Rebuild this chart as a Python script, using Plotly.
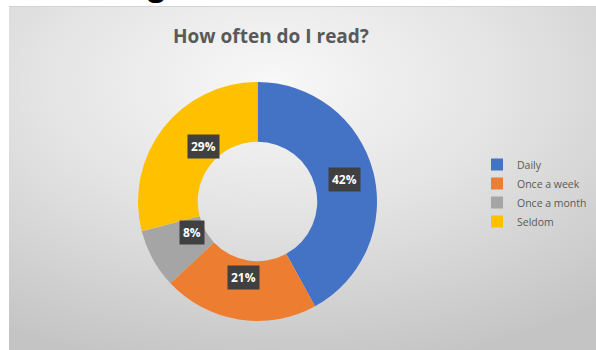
import base64
import math

import plotly.graph_objects as go

# Survey answers and their share of the total, in percent
categories = ["Daily", "Once a week", "Once a month", "Seldom"]
shares = [42, 21, 8, 29]
slice_colors = ["#4472C4", "#ED7D31", "#A5A5A5", "#FFC000"]
chart_title = "How often do I read?"

W, H = 596, 350
PANEL_X0, PANEL_Y0 = 9, 6          # top-left corner of the grey chart panel (px)
PANEL_X1 = W + 12                  # panel runs past the right edge of the page
CX, CY, R = 257.5, 201.5, 119.5    # donut centre and outer radius (px)
HOLE = 0.5

# Radial grey gradient for the chart panel, supplied as an inline SVG image
pw, ph = PANEL_X1 - PANEL_X0, H - PANEL_Y0
panel_svg = f"""<svg xmlns="http://www.w3.org/2000/svg" width="{pw}" height="{ph}" viewBox="0 0 {pw} {ph}" preserveAspectRatio="none">
<defs><radialGradient id="bg" cx="0.44" cy="0.22" r="0.85">
<stop offset="0" stop-color="#f8f8f8"/>
<stop offset="0.45" stop-color="#e4e4e4"/>
<stop offset="1" stop-color="#c4c4c4"/>
</radialGradient></defs>
<rect x="0" y="0" width="{pw}" height="{ph}" fill="url(#bg)"/>
<line x1="0" y1="0.5" x2="{pw}" y2="0.5" stroke="#d4d4d4" stroke-width="1"/>
</svg>"""
panel_src = "data:image/svg+xml;base64," + base64.b64encode(panel_svg.encode()).decode()

fig = go.Figure()

fig.add_trace(go.Pie(
    labels=categories,
    values=shares,
    hole=HOLE,
    sort=False,
    direction="clockwise",
    rotation=0,
    marker=dict(colors=slice_colors, line=dict(width=0)),
    textinfo="none",
    showlegend=True,
    domain=dict(x=[(CX - R) / W, (CX + R) / W],
                y=[1 - (CY + R) / H, 1 - (CY - R) / H]),
))

# Percentage labels in dark boxes, centred on each ring segment
annotations = []
total = sum(shares)
ring_mid = R * (1 + HOLE) / 2
cum = 0.0
for v in shares:
    ang = (cum + v / 2) / total * 2 * math.pi
    cum += v
    annotations.append(dict(
        x=(CX + ring_mid * math.sin(ang)) / W,
        y=1 - (CY - ring_mid * math.cos(ang)) / H,
        xref="paper", yref="paper", showarrow=False,
        text=f"<b>{round(v / total * 100)}%</b>",
        font=dict(family="Open Sans", size=12, color="white"),
        bgcolor="#404040", borderpad=3,
    ))

# Heading fragment above the chart panel
annotations.append(dict(
    x=156 / W, y=1 - 7 / H, xref="paper", yref="paper",
    xanchor="center", yanchor="bottom", showarrow=False,
    text="<b>g</b>", font=dict(family="Open Sans", size=30, color="black"),
))

# White page margin above and to the left of the panel
margin_shapes = [
    dict(type="rect", xref="paper", yref="paper", layer="below",
         x0=0, x1=1.05, y0=1 - PANEL_Y0 / H, y1=1.05,
         fillcolor="white", line=dict(width=0)),
    dict(type="rect", xref="paper", yref="paper", layer="below",
         x0=-0.05, x1=PANEL_X0 / W, y0=-0.05, y1=1.05,
         fillcolor="white", line=dict(width=0)),
]

fig.update_layout(
    width=W, height=H,
    margin=dict(l=0, r=0, t=0, b=0, autoexpand=False),
    paper_bgcolor="#d5d5d5",
    title=dict(
        text=f"<b>{chart_title}</b>",
        x=271 / W, xanchor="center",
        y=1 - 36 / H, yanchor="middle",
        font=dict(family="Open Sans", size=19, color="#595959"),
    ),
    legend=dict(
        x=477 / W, y=1 - 150 / H, xanchor="left", yanchor="top",
        font=dict(family="Open Sans", size=10.5, color="#595959"),
        bgcolor="rgba(0,0,0,0)",
        itemwidth=30,
    ),
    images=[dict(
        source=panel_src, xref="paper", yref="paper",
        x=PANEL_X0 / W, y=1 - PANEL_Y0 / H,
        sizex=pw / W, sizey=ph / H,
        xanchor="left", yanchor="top",
        sizing="stretch", layer="below",
    )],
    shapes=margin_shapes,
    annotations=annotations,
)

fig.write_html("out.html")
